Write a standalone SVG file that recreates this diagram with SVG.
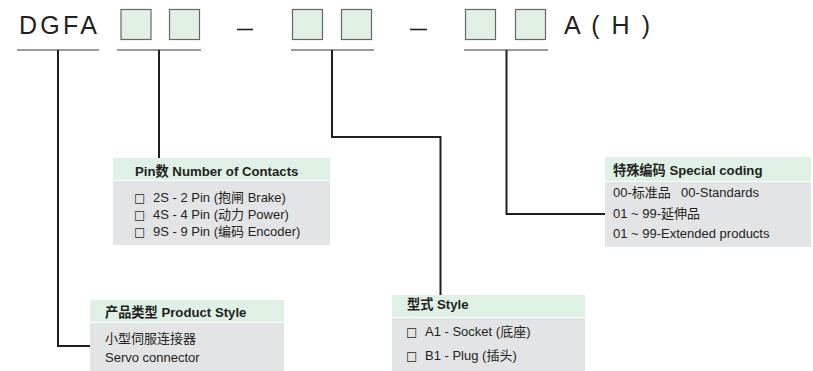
<svg xmlns="http://www.w3.org/2000/svg" width="813" height="371" viewBox="0 0 813 371">
<style>
.big{font-family:"Liberation Sans",Arial,sans-serif;font-size:25px;fill:#231f20}
.cell{fill:#e0f0e5;stroke:#666;stroke-width:1.2}
.ul{stroke:#7a7a7a;stroke-width:1.3;fill:none}
.conn{stroke:#231f20;stroke-width:2;fill:none}
.hd{fill:#dff0e4}
.bd{fill:#e3e4e6}
.ht{font-family:"Liberation Sans",Arial,"Noto Sans CJK SC",sans-serif;font-size:13.2px;font-weight:bold;fill:#231f20}
.bt{font-family:"Liberation Sans",Arial,"Noto Sans CJK SC",sans-serif;font-size:13px;fill:#231f20}
.cb{font-family:"DejaVu Sans",sans-serif;font-size:12px;fill:#231f20}
</style>
<rect width="813" height="371" fill="#fff"/>
<g id="code">
<text class="big" x="19" y="34" textLength="78" lengthAdjust="spacing">DGFA</text>
<rect class="cell" x="121" y="9.5" width="30" height="30"/>
<rect class="cell" x="169.5" y="9.5" width="30" height="30"/>
<line x1="237" y1="29.5" x2="253" y2="29.5" stroke="#231f20" stroke-width="1.6"/>
<rect class="cell" x="292.5" y="9.5" width="30" height="30"/>
<rect class="cell" x="341.5" y="9.5" width="30" height="30"/>
<line x1="410" y1="29.5" x2="427" y2="29.5" stroke="#231f20" stroke-width="1.6"/>
<rect class="cell" x="465.5" y="9.5" width="30" height="30"/>
<rect class="cell" x="515.5" y="9.5" width="30" height="30"/>
<text class="big" x="564" y="34" textLength="86" lengthAdjust="spacing">A ( H )</text>
<line class="ul" x1="17" y1="50" x2="99" y2="50"/>
<line class="ul" x1="117" y1="50" x2="201" y2="50"/>
<line class="ul" x1="291" y1="50" x2="374" y2="50"/>
<line class="ul" x1="464" y1="50" x2="548" y2="50"/>
</g>
<g id="connectors">
<polyline class="conn" points="58,50 58,346 90,346"/>
<polyline class="conn" points="159,50 159,158"/>
<polyline class="conn" points="332,50 332,137 440.5,137 440.5,295"/>
<polyline class="conn" points="506.5,50 506.5,214 605,214"/>
</g>
<g id="pin">
<rect class="hd" x="113" y="158" width="217" height="22"/>
<rect class="bd" x="113" y="181" width="217" height="64"/>
<text class="ht" x="135" y="176">Pin数 Number of Contacts</text>
<text class="cb" x="134" y="202">□</text><text class="bt" x="153" y="202">2S - 2 Pin (抱闸 Brake)</text>
<text class="cb" x="134" y="219">□</text><text class="bt" x="153" y="219">4S - 4 Pin (动力 Power)</text>
<text class="cb" x="134" y="236">□</text><text class="bt" x="153" y="236">9S - 9 Pin (编码 Encoder)</text>
</g>
<g id="special">
<rect class="hd" x="605" y="157" width="206" height="24"/>
<rect class="bd" x="605" y="182" width="206" height="65"/>
<text class="ht" x="613" y="175">特殊编码 Special coding</text>
<text class="bt" x="613" y="197">00-标准品<tspan x="681">00-Standards</tspan></text>
<text class="bt" x="613" y="218">01 ~ 99-延伸品</text>
<text class="bt" x="613" y="238">01 ~ 99-Extended products</text>
</g>
<g id="product">
<rect class="hd" x="90" y="300" width="194" height="22"/>
<rect class="bd" x="90" y="323" width="194" height="48"/>
<text class="ht" x="105" y="317">产品类型 Product Style</text>
<text class="bt" x="105" y="343">小型伺服连接器</text>
<text class="bt" x="105" y="362">Servo connector</text>
</g>
<g id="style">
<rect class="hd" x="392" y="295" width="193" height="22"/>
<rect class="bd" x="392" y="318" width="193" height="53"/>
<text class="ht" x="407" y="309">型式 Style</text>
<text class="cb" x="406" y="336">□</text><text class="bt" x="425" y="336">A1 - Socket (底座)</text>
<text class="cb" x="406" y="360">□</text><text class="bt" x="425" y="360">B1 - Plug (插头)</text>
</g>
</svg>
